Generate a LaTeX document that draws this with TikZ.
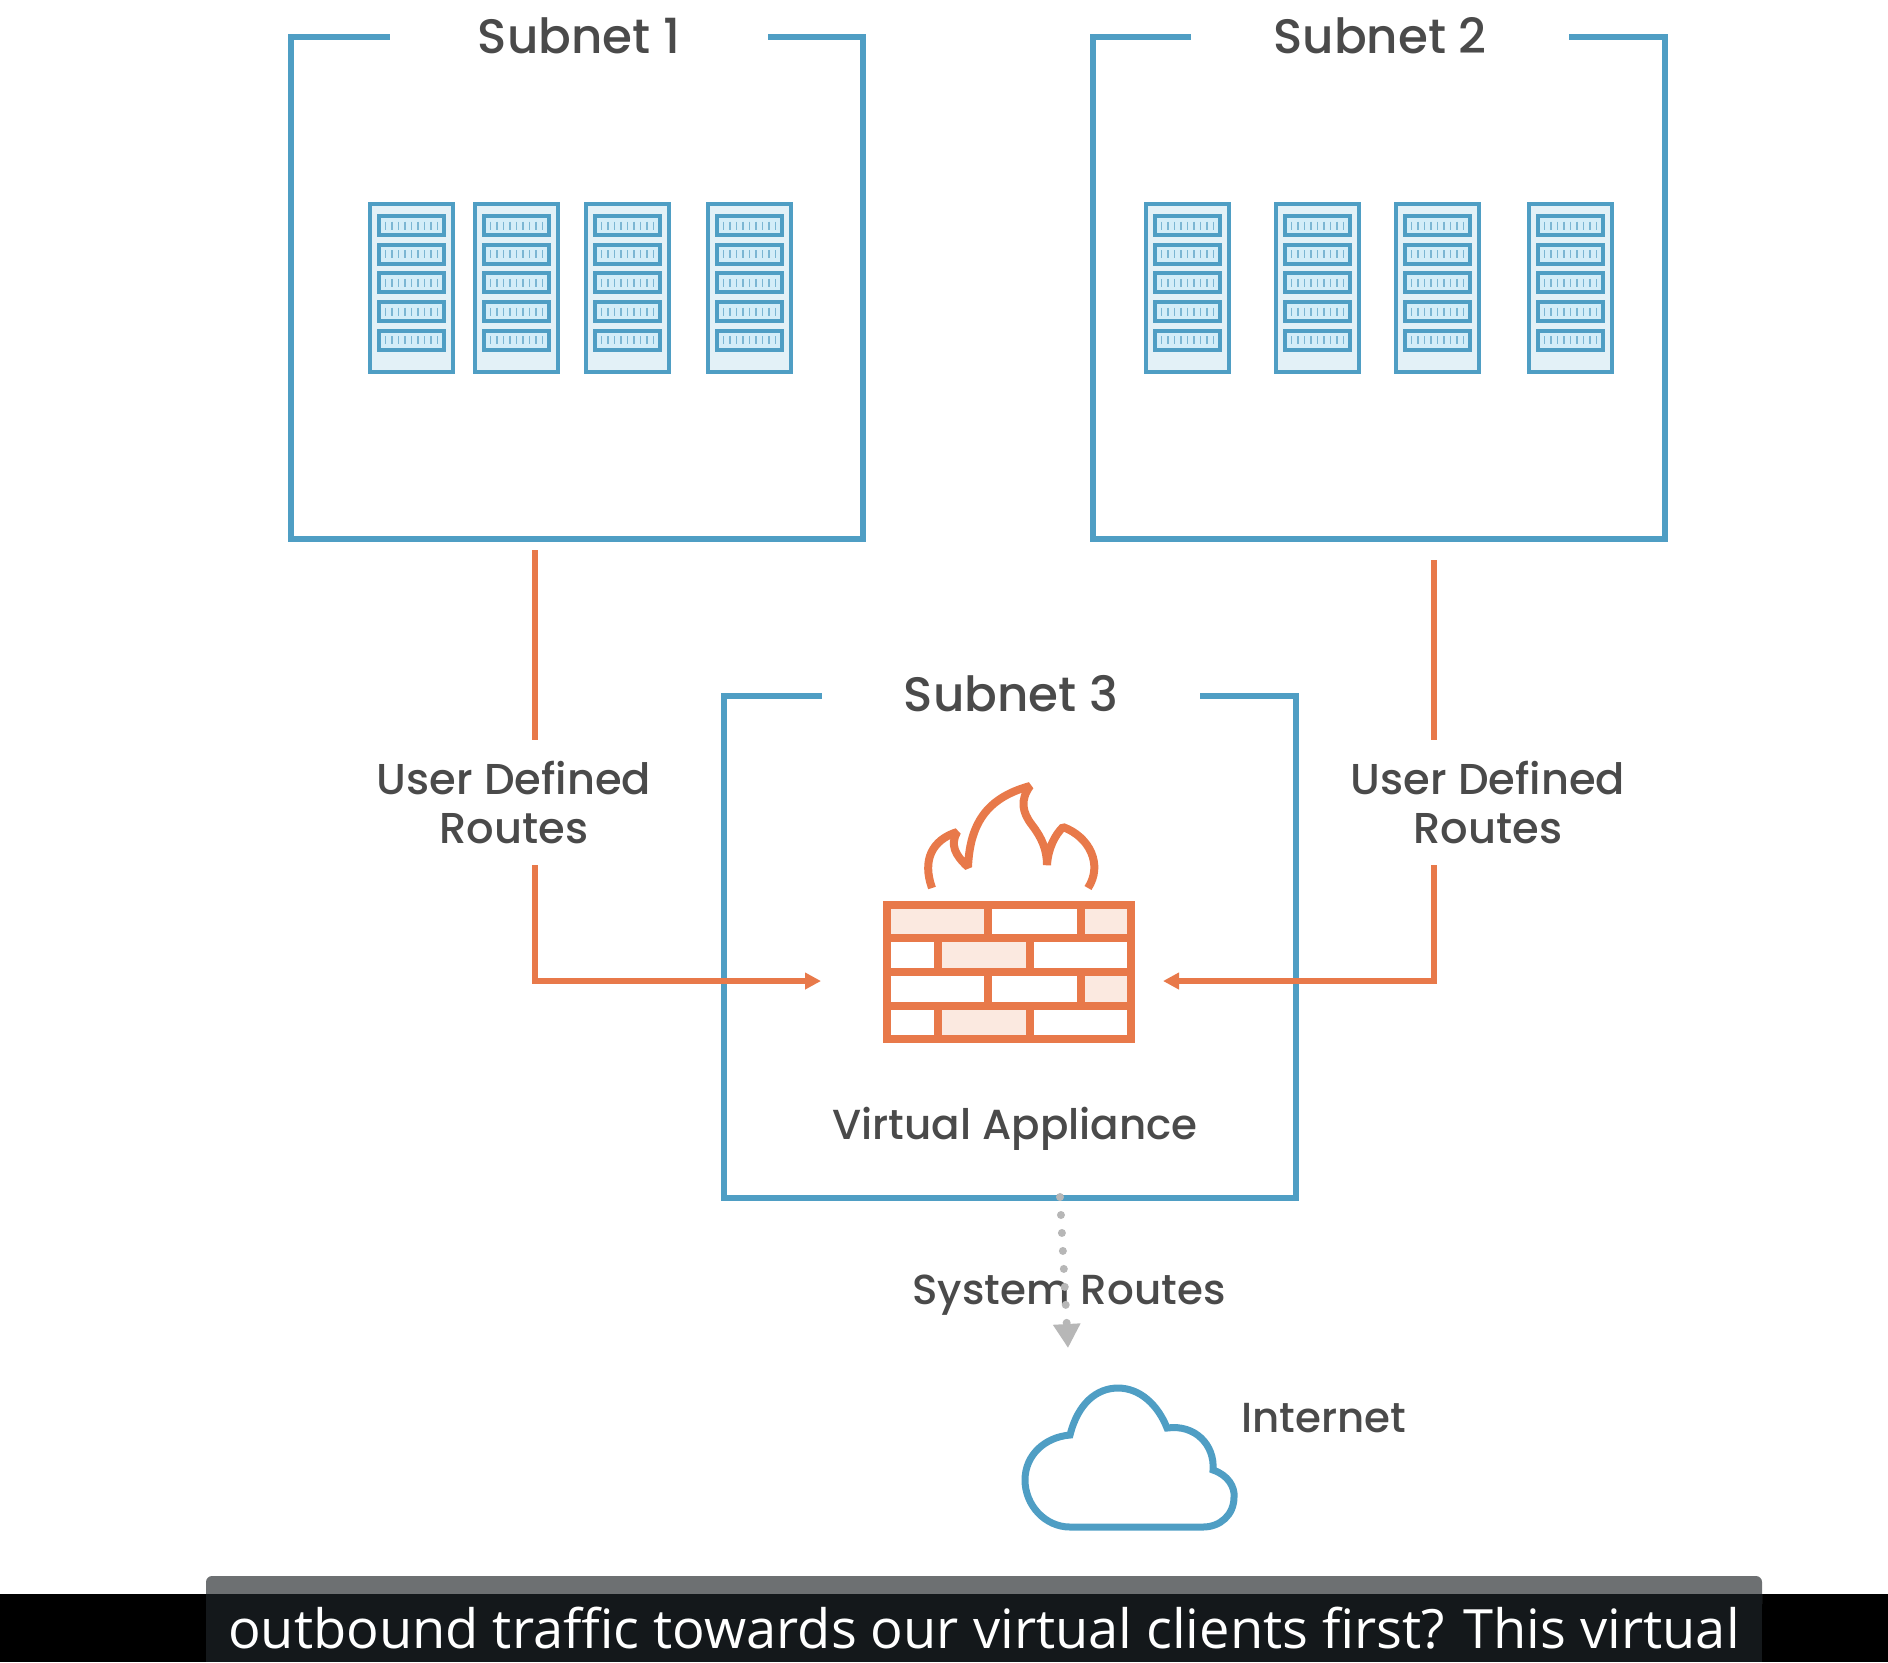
\documentclass[tikz,border=0pt]{standalone}
\usepackage{fontspec}
\setmainfont{Poppins Medium}
\newfontfamily\capfont{Open Sans}
\usetikzlibrary{arrows.meta}

\definecolor{subnetblue}{HTML}{4F9EC4}
\definecolor{rackfill}{HTML}{E3F1F7}
\definecolor{slotfill}{HTML}{D3EDF8}
\definecolor{fireorange}{HTML}{E8794A}
\definecolor{brickfill}{HTML}{FBE9E0}
\definecolor{labelgray}{HTML}{4A4A4A}
\definecolor{routegray}{HTML}{B7B7B7}
\definecolor{capgray}{HTML}{6D7072}
\definecolor{capdark}{HTML}{14181B}

\begin{document}
\begin{tikzpicture}[
    x = .5pt, y = -.5pt,
    outer sep = 0mm, inner sep = 0mm,
    subnet/.style = {
      rectangle, draw = subnetblue, line width = 3pt,
      minimum width = 286pt, minimum height = 251pt,
    },
    title/.style = {
      fill = white, text = labelgray, minimum width = 189pt, minimum height = 12pt,
      yshift = .7pt, font = \fontsize{24.2}{30}\selectfont,
    },
    lbl/.style = {
      text = labelgray, align = center,
      font = \fontsize{21}{24.5}\selectfont,
    },
    udr/.style = {lbl, font = \fontsize{21.6}{24.5}\selectfont},
    route/.style = {draw = fireorange, line width = 2.75pt},
    routetip/.style = {route, -{Triangle[width = 8pt, length = 8pt]}},
    rack/.pic = {
      \draw[subnetblue, line width = 1.75pt, fill = rackfill] (0,0) rectangle (83,168);
      \foreach \s in {0,...,4} {
        \draw[subnetblue, line width = 2pt, fill = slotfill]
          (9,{12+28.7*\s}) rectangle (74,{31+28.7*\s});
        \foreach \t in {0,...,8} {
          \draw[subnetblue!75, line width = .9pt]
            ({15.5+6.5*\t},{17.5+28.7*\s}) to ++(0,8);
        }
      }
    },
  ]
  \useasboundingbox (0,0) rectangle (1888,1662);

  % the three subnets
  \node[subnet] (s1) at (577,288) {};
  \node[subnet] (s2) at (1378.5,288) {};
  \node[subnet] (s3) at (1010,946.5) {};
  \node[title] (s1t) at (579,37) {Subnet 1};
  \node[title] (s2t) at (1380,37) {Subnet 2};
  \node[title] (s3t) at (1011,695) {Subnet 3};

  \foreach \x in {370,475,586,708} { \pic at (\x,204) {rack}; }
  \foreach \x in {1146,1276,1396,1529} { \pic at (\x,204) {rack}; }

  % firewall
  \fill[brickfill] (887,905) rectangle (988,938) (1081,905) rectangle (1131,938);
  \fill[brickfill] (938,938) rectangle (1030,972);
  \fill[brickfill] (1081,972) rectangle (1131,1006);
  \fill[brickfill] (938,1006) rectangle (1030,1039);
  \node[draw = fireorange, line width = 4pt, minimum width = 122pt, minimum height = 67pt] (wall) at (1009,972) {};
  \draw[fireorange, line width = 4pt]
    (887,938) to (1131,938)
    (887,972) to (1131,972)
    (887,1006) to (1131,1006)
    (988,905) to (988,938) (1081,905) to (1081,938)
    (938,938) to (938,972) (1030,938) to (1030,972)
    (988,972) to (988,1006) (1081,972) to (1081,1006)
    (938,1006) to (938,1039) (1030,1006) to (1030,1039);
  \draw[fireorange, line width = 4pt, line join = bevel]
    (932,888) .. controls (922,860) and (932,840) .. (957,832)
    .. controls (950,845) and (955,855) .. (968,867)
    .. controls (970,820) and (990,797) .. (1030,786)
    .. controls (1020,800) and (1022,812) .. (1032,825)
    .. controls (1042,838) and (1047,850) .. (1047,865)
    .. controls (1048,848) and (1055,835) .. (1063,827)
    .. controls (1090,837) and (1103,865) .. (1088,888);

  \node[lbl] (va) at (1015,1129) {Virtual Appliance};
  \node[udr] (udr1) at (514,802) {User Defined\\Routes};
  \node[udr] (udr2) at (1488,802) {User Defined\\Routes};
  \node[lbl] (sysr) at (1069,1295) {System Routes};
  \node[lbl] (inet) at (1324,1418) {Internet};

  % routes, broken by their labels
  \coordinate (r1a) at (535,550);
  \coordinate (r1b) at (535,740);
  \coordinate (r1c) at (535,865);
  \coordinate (r1d) at (821,981);
  \coordinate (r2a) at (1434,560);
  \coordinate (r2b) at (1434,740);
  \coordinate (r2c) at (1434,865);
  \coordinate (r2d) at (1163,981);
  \draw[route] (r1a) to (r1b);
  \draw[route] (r2a) to (r2b);
  \draw[routetip] (r1c) |- (r1d);
  \draw[routetip] (r2c) |- (r2d);

  \coordinate (sysa) at (1060,1197);
  \coordinate (sysb) at (1068,1348);
  \draw[routegray, line width = 4pt, line cap = round, dash pattern = on 0pt off 9pt,
    -{Triangle[width = 13pt, length = 12pt]}] (sysa) to (sysb);

  % cloud
  \draw[subnetblue, line width = 3.5pt]
    (1070,1435) .. controls (1078,1403) and (1097,1388) .. (1118,1388)
    .. controls (1140,1388) and (1158,1405) .. (1167,1428)
    .. controls (1195,1424) and (1215,1445) .. (1213,1470)
    .. controls (1228,1475) and (1235,1487) .. (1234,1497)
    .. controls (1234,1515) and (1220,1527) .. (1203,1527)
    to (1070,1527)
    .. controls (1045,1527) and (1025,1505) .. (1025,1480)
    .. controls (1025,1455) and (1045,1437) .. (1070,1435) -- cycle;

  % caption bar
  \fill[black] (0,1594) rectangle (1888,1662);
  \fill[capgray, rounded corners = 3pt] (206,1576) rectangle (1762,1610);
  \fill[capdark] (206,1594) rectangle (1762,1662);
  \node[anchor = base west, text = white, font = \capfont\fontsize{27.1}{30}\selectfont] (cap) at (228,1648)
    {outbound traffic towards our virtual clients first? This virtual};
\end{tikzpicture}
\end{document}
